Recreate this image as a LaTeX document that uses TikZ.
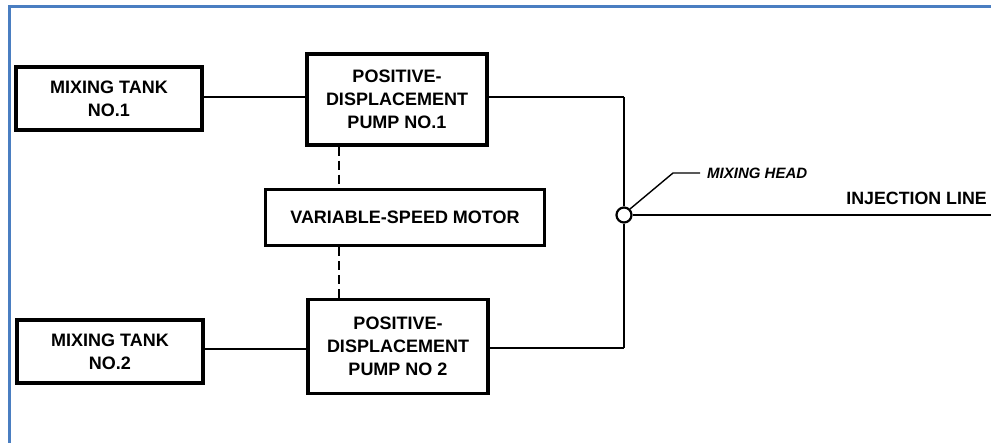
\documentclass[tikz,border=0pt]{standalone}
\usepackage{fontspec}
\setmainfont{Liberation Sans}
\begin{document}
\begin{tikzpicture}[x=1pt,y=-1pt,
  blk/.style={draw=black,line width=3.2pt,fill=white,align=center,inner sep=0pt,
    font=\fontsize{18}{23}\selectfont\bfseries},
  wire/.style={draw=black,line width=1.8pt},
  thick wire/.style={draw=black,line width=2.8pt},
  link/.style={draw=black,line width=1.8pt,dash pattern=on 9pt off 5pt}]
\useasboundingbox (0,0) rectangle (991,443);
\fill[white] (0,0) rectangle (991,443);
\draw[color={rgb,255:red,74;green,126;blue,193},line width=3pt] (9.5,443) -- (9.5,6.5) -- (991,6.5);

\node[blk,minimum width=186pt,minimum height=63pt] (t1) at (109,98.5) {MIXING TANK\\NO.1};
\node[blk,minimum width=180pt,minimum height=91pt] (p1) at (397,99.5) {POSITIVE-\\DISPLACEMENT\\PUMP NO.1};
\node[blk,minimum width=279pt,minimum height=56pt] (m) at (405,217.5) {VARIABLE-SPEED MOTOR};
\node[blk,minimum width=180pt,minimum height=94pt] (p2) at (398,346.5) {POSITIVE-\\DISPLACEMENT\\PUMP NO 2};
\node[blk,minimum width=186pt,minimum height=63pt] (t2) at (110,351.5) {MIXING TANK\\NO.2};

\node[draw=black,circle,line width=2.2pt,minimum size=15pt,inner sep=0pt,fill=white] (h) at (624,215) {};
\coordinate (c1) at (624,97);
\coordinate (c2) at (624,348);
\coordinate (e) at (991,215);
\coordinate (k1) at (673,173);
\coordinate (k2) at (700,173);

\draw[wire] (t1.east |- 0,97) -- (p1.west |- 0,97);
\draw[thick wire] (t2.east |- 0,349) -- (p2.west |- 0,349);
\draw[thick wire] (p1.east |- c1) -- (c1);
\draw[wire] (c1) -- (h.north);
\draw[wire] (h.south) -- (c2);
\draw[thick wire] (p2.east |- c2) -- (c2);
\draw[wire] (h.east) -- (e);
\draw[link] (p1.south -| 339,0) -- (m.north -| 339,0);
\draw[link] (m.south -| 339,0) -- (p2.north -| 339,0);
\draw[line width=1.4pt] (h.north east) -- (k1) -- (k2);

\node[anchor=west,inner sep=0pt,font=\fontsize{15}{17}\selectfont\bfseries\itshape] (mh) at (707,173) {MIXING HEAD};
\node[anchor=east,inner sep=0pt,font=\fontsize{17.8}{20}\selectfont\bfseries] (il) at (987,198) {INJECTION LINE};
\end{tikzpicture}
\end{document}
